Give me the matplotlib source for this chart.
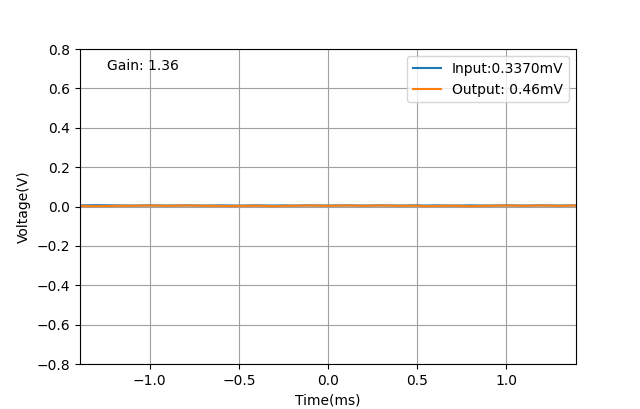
import numpy as np
import matplotlib
matplotlib.use('Agg')
import matplotlib.pyplot as plt

# time axis (ms) and traces (V)
t_ms = [-1.39, -1.30, -1.20, -1.10, -1.00, -0.90, -0.80, -0.70, -0.60, -0.50,
        -0.40, -0.30, -0.25, -0.20, -0.10, 0.00, 0.10, 0.20, 0.30, 0.40,
        0.50, 0.55, 0.60, 0.70, 0.80, 0.90, 1.00, 1.10, 1.20, 1.30, 1.39]
v_in = [0.006, 0.007, 0.006, 0.005, 0.006, 0.005, 0.006, 0.005, 0.006, 0.005,
        0.006, 0.005, 0.006, 0.005, 0.006, 0.005, 0.006, 0.005, 0.006, 0.005,
        0.006, 0.005, 0.006, 0.005, 0.006, 0.005, 0.006, 0.005, 0.006, 0.005, 0.006]
v_out = [0.003, 0.002, 0.003, 0.004, 0.005, 0.004, 0.005, 0.004, 0.003, 0.003,
         0.004, 0.002, 0.003, 0.004, 0.005, 0.004, 0.005, 0.004, 0.005, 0.004,
         0.004, 0.002, 0.003, 0.004, 0.002, 0.004, 0.005, 0.004, 0.005, 0.004, 0.005]

fig, ax = plt.subplots(figsize=(6.4, 4.09), dpi=100)
ax.plot(t_ms, v_in, label='Input:0.3370mV')
ax.plot(t_ms, v_out, label='Output: 0.46mV')
ax.set_xlim(-1.39, 1.39)
ax.set_ylim(-0.8, 0.8)
ax.set_xlabel('Time(ms)')
ax.set_ylabel('Voltage(V)')
ax.grid(True, color='#a0a0a0')
ax.text(0.055, 0.97, 'Gain: 1.36', transform=ax.transAxes, va='top')
ax.legend(loc='upper right')
fig.savefig('out.png', dpi=100)
